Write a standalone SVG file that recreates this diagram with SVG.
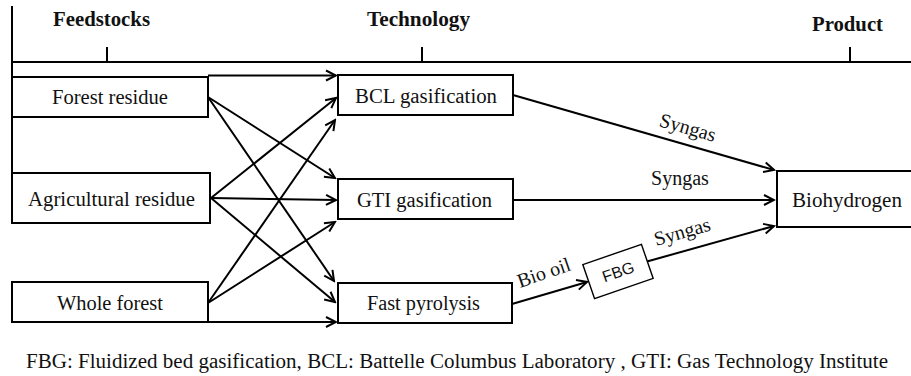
<svg xmlns="http://www.w3.org/2000/svg" width="911" height="376" viewBox="0 0 911 376">
  <style>
    .box { fill: #fff; stroke: #000; stroke-width: 2; }
    .ln { fill: none; stroke: #000; stroke-width: 2; }
    .arr { fill: none; stroke: #000; stroke-width: 2; marker-end: url(#head); }
    .lbl { font-family: 'Liberation Serif', 'DejaVu Serif', serif; font-size: 20px; fill: #111; }
    .hdr { font-family: 'Liberation Serif', 'DejaVu Serif', serif; font-size: 20px; font-weight: bold; fill: #111; }
    .sans { font-family: 'Liberation Sans', 'DejaVu Sans', sans-serif; font-size: 16px; fill: #111; }
  </style>
  <defs>
    <marker id="head" viewBox="-12 -7 14 14" refX="0" refY="0" markerWidth="14" markerHeight="14" markerUnits="userSpaceOnUse" orient="auto">
      <path d="M-10,-5 L0,0 L-10,5" fill="none" stroke="#000" stroke-width="2"/>
    </marker>
  </defs>

  <rect width="911" height="376" fill="#fff"/>

  <!-- stage axis -->
  <g id="axis">
    <line class="ln" x1="12" y1="6" x2="12" y2="174" stroke-width="1.6"/>
    <line class="ln" x1="12" y1="62" x2="911" y2="62"/>
    <line class="ln" x1="107" y1="47" x2="107" y2="62"/>
    <line class="ln" x1="422" y1="47" x2="422" y2="62"/>
    <line class="ln" x1="850" y1="47" x2="850" y2="62"/>
    <text class="hdr" x="53" y="26" textLength="97" lengthAdjust="spacingAndGlyphs">Feedstocks</text>
    <text class="hdr" x="367" y="26" textLength="103" lengthAdjust="spacingAndGlyphs">Technology</text>
    <text class="hdr" x="812" y="31" textLength="71" lengthAdjust="spacingAndGlyphs">Product</text>
  </g>

  <!-- feedstocks -->
  <g id="forest-residue">
    <rect class="box" x="12" y="77" width="196" height="40"/>
    <text class="lbl" x="52" y="104" textLength="116" lengthAdjust="spacingAndGlyphs">Forest residue</text>
  </g>
  <g id="agricultural-residue">
    <rect class="box" x="12" y="173" width="198" height="50"/>
    <text class="lbl" x="28" y="206" textLength="167" lengthAdjust="spacingAndGlyphs">Agricultural residue</text>
  </g>
  <g id="whole-forest">
    <rect class="box" x="12" y="282" width="196" height="40"/>
    <text class="lbl" x="57" y="310" textLength="106" lengthAdjust="spacingAndGlyphs">Whole forest</text>
  </g>

  <!-- technologies -->
  <g id="bcl-gasification">
    <rect class="box" x="338" y="75" width="175" height="40"/>
    <text class="lbl" x="355" y="103" textLength="142" lengthAdjust="spacingAndGlyphs">BCL gasification</text>
  </g>
  <g id="gti-gasification">
    <rect class="box" x="338" y="179" width="175" height="40"/>
    <text class="lbl" x="357" y="207" textLength="135" lengthAdjust="spacingAndGlyphs">GTI gasification</text>
  </g>
  <g id="fast-pyrolysis">
    <rect class="box" x="338" y="283" width="174" height="40"/>
    <text class="lbl" x="367" y="310" textLength="113" lengthAdjust="spacingAndGlyphs">Fast pyrolysis</text>
  </g>

  <!-- fluidized bed gasification -->
  <g id="fbg" transform="translate(618,271.5) rotate(-19)">
    <rect x="-31" y="-18" width="62" height="36" fill="#fff" stroke="#000" stroke-width="1.4"/>
    <text class="sans" x="0" y="6" text-anchor="middle">FBG</text>
  </g>

  <!-- product -->
  <g id="biohydrogen">
    <path class="ln" d="M912,171 H777 V227 H912"/>
    <text class="lbl" x="792" y="207" textLength="110" lengthAdjust="spacingAndGlyphs">Biohydrogen</text>
  </g>

  <!-- connectors -->
  <g id="connectors">
    <!-- forest residue -->
    <line class="arr" x1="208" y1="75.5" x2="336" y2="75.5"/>
    <line class="arr" x1="208" y1="97" x2="335" y2="178"/>
    <line class="arr" x1="208" y1="97" x2="334" y2="281"/>
    <!-- agricultural residue -->
    <line class="arr" x1="211" y1="198" x2="336" y2="98"/>
    <line class="arr" x1="211" y1="198" x2="336" y2="200"/>
    <line class="arr" x1="211" y1="198" x2="335" y2="302"/>
    <!-- whole forest -->
    <line class="arr" x1="208" y1="303" x2="335" y2="120"/>
    <line class="arr" x1="208" y1="303" x2="335" y2="222"/>
    <line class="arr" x1="208" y1="322" x2="336" y2="322"/>
    <!-- technology to product -->
    <line class="arr" x1="513" y1="95" x2="774" y2="170"/>
    <line class="arr" x1="513" y1="200" x2="774" y2="200"/>
    <line class="arr" x1="512" y1="304" x2="587" y2="282"/>
    <line class="arr" x1="647" y1="261.5" x2="774" y2="226"/>

    <text class="lbl" transform="translate(686,134) rotate(16)" text-anchor="middle" font-size="19">Syngas</text>
    <text class="lbl" x="680" y="185" text-anchor="middle" font-size="19">Syngas</text>
    <text class="lbl" transform="translate(684,238) rotate(-16)" text-anchor="middle" font-size="19">Syngas</text>
    <text class="lbl" transform="translate(546,279) rotate(-19)" text-anchor="middle" font-size="19">Bio oil</text>
  </g>

  <!-- abbreviations -->
  <text class="lbl" x="26" y="368" font-size="19" textLength="862" lengthAdjust="spacingAndGlyphs">FBG: Fluidized bed gasification, BCL: Battelle Columbus Laboratory , GTI: Gas Technology Institute</text>
</svg>
